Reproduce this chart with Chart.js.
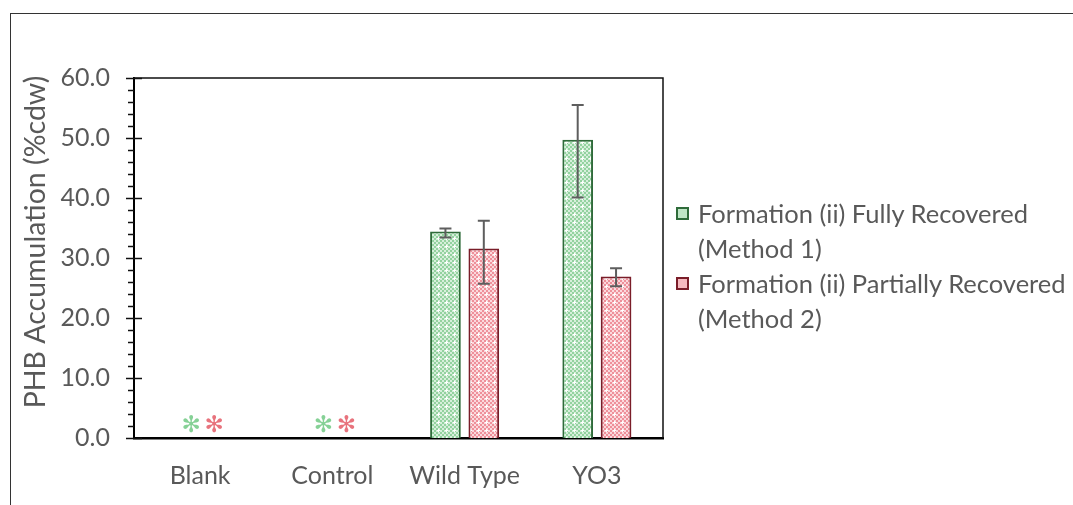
<!DOCTYPE html>
<html>
<head>
<meta charset="utf-8">
<script src="https://cdn.jsdelivr.net/npm/chart.js@4.4.1/dist/chart.umd.min.js"></script>
<style>
  html, body { margin: 0; padding: 0; background: #fff; overflow: hidden; }
  #wrap { position: relative; width: 1073px; height: 505px; }
  #frame { position: absolute; left: 10px; top: 13px; width: 1200px; height: 600px;
           border: 1.5px solid #333; box-sizing: border-box; }
  #c { position: absolute; left: 0; top: 0; }
  #legend { position: absolute; left: 676px; top: 196px; font-family: Lato, "Open Sans", sans-serif;
            font-size: 25.5px; color: #595959; white-space: nowrap; line-height: 35px; }
  .item { position: relative; padding-left: 22px; }
  .sw { position: absolute; left: 0; top: 11px; width: 13px; height: 13px; box-sizing: border-box; }
</style>
</head>
<body>
<div id="wrap">
  <div id="frame"></div>
  <canvas id="c" width="1073" height="505"></canvas>
  <div id="legend"></div>
</div>
<script>
// ===== PHB 축적량 막대그래프 =====
const categories = ["Blank", "Control", "Wild Type", "YO3"];
const seriesNames = [
  ["Formation (ii) Fully Recovered", "(Method 1)"],
  ["Formation (ii) Partially Recovered", "(Method 2)"],
];
const yTitle = "PHB Accumulation (%cdw)";
const method1 = [0, 0, 34.4, 49.7];
const method2 = [0, 0, 31.6, 26.9];
const method1ErrUp = [0, 0, 0.5, 5.8];
const method1ErrDown = [0, 0, 1.0, 9.6];
const method2ErrUp = [0, 0, 4.6, 1.4];
const method2ErrDown = [0, 0, 5.9, 1.6];
const yTicks = [0, 10, 20, 30, 40, 50, 60];

// 패턴 채우기 (엑셀 격자 무늬 흉내)
function makePattern(dark, light) {
  const p = document.createElement("canvas");
  p.width = 8; p.height = 8;
  const g = p.getContext("2d");
  g.fillStyle = light;
  g.fillRect(0, 0, 8, 8);
  g.fillStyle = dark;
  for (let y = 0; y < 8; y += 2) {
    for (let x = 0; x < 8; x += 2) {
      if (((x + y) / 2) % 2 === 0) g.fillRect(x, y, 2, 2);
    }
  }
  g.fillStyle = "#ffffff";
  g.fillRect(5, 6, 3, 1);
  g.fillRect(6, 5, 1, 3);
  return g.createPattern(p, "repeat");
}

const greenFill = makePattern("#93d29f", "#d6efdb");
const redFill = makePattern("#ee909a", "#fbd8dc");
const greenLine = "#2f6b3a";
const redLine = "#7a1d29";
const starColors = ["#86d196", "#e8737d"];
const errs = [[method1ErrUp, method1ErrDown], [method2ErrUp, method2ErrDown]];

// 범례는 HTML로
const legendEl = document.getElementById("legend");
[[greenLine, "#bfe6c6"], [redLine, "#f6b9bf"]].forEach((c, i) => {
  const d = document.createElement("div");
  d.className = "item";
  d.innerHTML = '<span class="sw" style="background:' + c[1] + ';border:2px solid ' + c[0] + '"></span>' +
    seriesNames[i][0] + "<br>" + seriesNames[i][1];
  legendEl.appendChild(d);
});

const decor = {
  id: "decor",
  afterDatasetsDraw(chart) {
    const ctx = chart.ctx;
    const ys = chart.scales.y;
    const xs = chart.scales.x;
    const a = chart.chartArea;
    ctx.save();
    // 위/오른쪽 테두리
    ctx.strokeStyle = "#111";
    ctx.lineWidth = 1.5;
    ctx.beginPath();
    ctx.moveTo(a.left, a.top);
    ctx.lineTo(a.right, a.top);
    ctx.lineTo(a.right, a.bottom);
    ctx.stroke();
    // 눈금
    for (let v = 0; v <= 60; v += 2) {
      const y = Math.round(ys.getPixelForValue(v)) + 0.5;
      ctx.beginPath();
      if (v % 10 === 0) { ctx.moveTo(a.left - 8, y); ctx.lineTo(a.left + 8, y); }
      else { ctx.moveTo(a.left - 6, y); ctx.lineTo(a.left, y); }
      ctx.stroke();
    }
    // 오차막대
    ctx.strokeStyle = "#5e5e5e";
    ctx.lineWidth = 2;
    chart.data.datasets.forEach((ds, i) => {
      const meta = chart.getDatasetMeta(i);
      meta.data.forEach((bar, j) => {
        const v = ds.data[j];
        if (!v) return;
        const top = ys.getPixelForValue(v + errs[i][0][j]);
        const bot = ys.getPixelForValue(v - errs[i][1][j]);
        ctx.beginPath();
        ctx.moveTo(bar.x, top); ctx.lineTo(bar.x, bot);
        ctx.moveTo(bar.x - 6, top); ctx.lineTo(bar.x + 6, top);
        ctx.moveTo(bar.x - 6, bot); ctx.lineTo(bar.x + 6, bot);
        ctx.stroke();
      });
    });
    // 값이 0인 항목은 별표
    ctx.font = "23px 'DejaVu Sans'";
    ctx.textAlign = "center";
    ctx.textBaseline = "middle";
    chart.data.datasets.forEach((ds, i) => {
      ds.data.forEach((v, j) => {
        if (v !== 0) return;
        ctx.fillStyle = starColors[i];
        ctx.fillText("\u273B", xs.getPixelForValue(j) + (i === 0 ? -9 : 14), ys.getPixelForValue(0) - 12);
      });
    });
    // 세로축 제목 (엑셀처럼 약간 위쪽에 배치)
    ctx.translate(36, 242);
    ctx.rotate(-Math.PI / 2);
    ctx.fillStyle = "#595959";
    ctx.font = "28.5px Lato";
    ctx.fillText(yTitle, 0, 0);
    ctx.restore();
  },
};

new Chart(document.getElementById("c"), {
  type: "bar",
  data: {
    labels: categories,
    datasets: [
      { label: seriesNames[0].join(" "), data: method1, backgroundColor: greenFill,
        borderColor: greenLine, borderWidth: 2, borderSkipped: "bottom" },
      { label: seriesNames[1].join(" "), data: method2, backgroundColor: redFill,
        borderColor: redLine, borderWidth: 2, borderSkipped: "bottom" },
    ],
  },
  options: {
    responsive: false,
    animation: false,
    layout: { padding: { left: 0, top: 78, right: 410, bottom: 17 } },
    categoryPercentage: 0.58,
    barPercentage: 0.8,
    scales: {
      x: {
        grid: { display: false, drawTicks: false },
        border: { color: "#000", width: 2.5 },
        ticks: { color: "#595959", font: { family: "Lato", size: 25 }, padding: 23 },
        afterFit: (s) => { s.height = 50; },
      },
      y: {
        min: 0, max: 60,
        afterBuildTicks: (s) => { s.ticks = yTicks.map((v) => ({ value: v })); },
        grid: { display: false, drawTicks: false },
        border: { color: "#000", width: 2 },
        ticks: { color: "#595959", font: { family: "Lato", size: 25 }, padding: 24,
                 callback: (v) => Number(v).toFixed(1) },
        afterFit: (s) => { s.width = 134; },
      },
    },
    plugins: { legend: { display: false }, tooltip: { enabled: false } },
  },
  plugins: [decor],
});
</script>
</body>
</html>
